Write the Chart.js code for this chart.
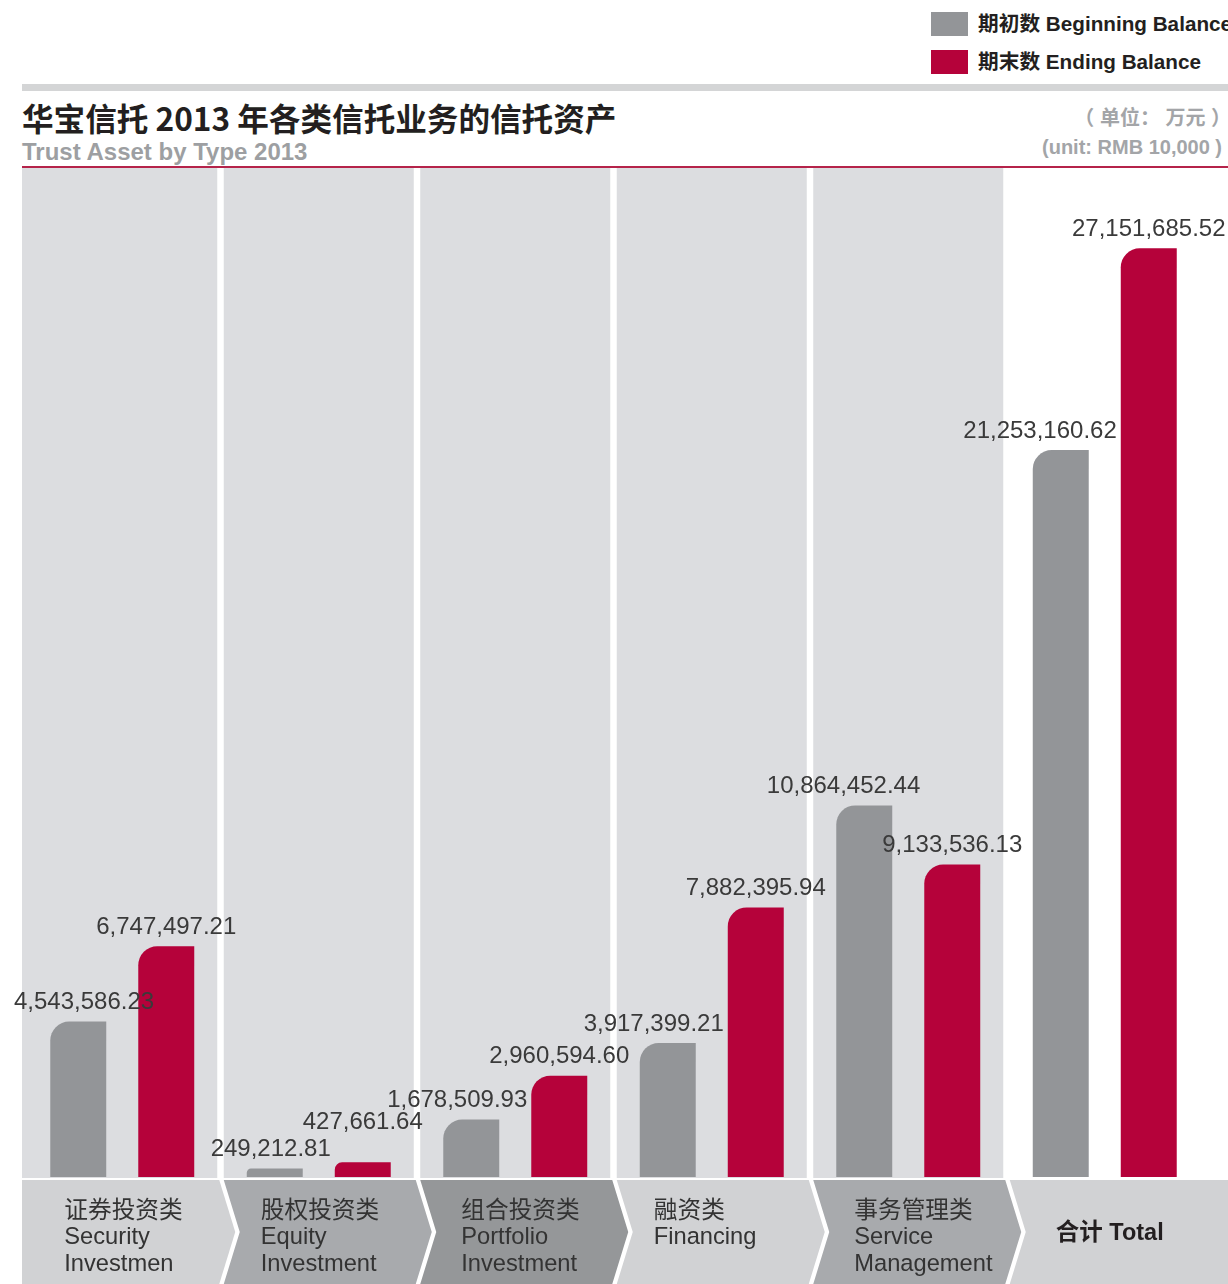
<!DOCTYPE html>
<html>
<head>
<meta charset="utf-8">
<script src="https://cdn.jsdelivr.net/npm/chart.js@4.4.0/dist/chart.umd.min.js"></script>
<style>
  body { margin: 0; width: 1228px; height: 1284px; overflow: hidden; background: #fff; position: relative;
         font-family: "Liberation Sans", "Noto Sans CJK SC", sans-serif; }
  .abs { position: absolute; white-space: nowrap; }
  .box { position: absolute; width: 37px; height: 24px; }
  .leg { font-size: 20.7px; font-weight: bold; color: #231f20; line-height: 24px; }
  #title { left: 22px; top: 98px; font-family: "Noto Sans CJK SC", sans-serif; font-weight: bold; font-size: 31.6px; line-height: 38px; color: #231f20; }
  #subtitle { left: 22px; top: 139px; font-size: 24px; font-weight: bold; color: #9d9fa2; line-height: 26px; }
  .unit { font-weight: bold; color: #a3a5a8; font-size: 20px; line-height: 24px; }
  #wrap { position: absolute; left: 0; top: 168px; width: 1228px; height: 1116px; }
</style>
</head>
<body>
<div class="box" style="left:931px;top:12px;background:#939598"></div>
<div class="abs leg" style="left:978px;top:12px">期初数 Beginning Balance</div>
<div class="box" style="left:931px;top:50px;background:#b5023a"></div>
<div class="abs leg" style="left:978px;top:50px">期末数 Ending Balance</div>

<div class="abs" style="left:22px;top:84px;width:1206px;height:7px;background:#d4d5d6"></div>
<div class="abs" id="title">华宝信托 2013 年各类信托业务的信托资产</div>
<div class="abs" id="subtitle">Trust Asset by Type 2013</div>
<div class="abs unit" style="right:-3px;top:106px">（ 单位： 万元 ）</div>
<div class="abs unit" style="left:1042px;top:135px">(unit: RMB 10,000 )</div>
<div class="abs" style="left:22px;top:166px;width:1206px;height:2px;background:#b5234a"></div>

<div id="wrap"><canvas id="chart"></canvas></div>

<script>
const categories = [
  ["证券投资类", "Security", "Investmen"],
  ["股权投资类", "Equity", "Investment"],
  ["组合投资类", "Portfolio", "Investment"],
  ["融资类", "Financing"],
  ["事务管理类", "Service", "Management"],
  ["合计 Total"]
];
const beginning = [4543586.23, 249212.81, 1678509.93, 3917399.21, 10864452.44, 21253160.62];
const ending = [6747497.21, 427661.64, 2960594.60, 7882395.94, 9133536.13, 27151685.52];

const fmt = new Intl.NumberFormat("en-US", { minimumFractionDigits: 2, maximumFractionDigits: 2 });
const chevronColors = ["#d1d2d4", "#a8aaad", "#959799", "#d1d2d4", "#a8aaad", "#d1d2d4"];

//grey columns behind every category except the total
const backdrop = {
  id: "backdrop",
  beforeDatasetsDraw(chart) {
    const { ctx, chartArea, scales } = chart;
    ctx.save();
    ctx.fillStyle = "#dcdde0";
    for (let i = 0; i < categories.length - 1; i++) {
      const c = scales.x.getPixelForValue(i);
      const left = i === 0 ? chartArea.left - 2 : c - 95;
      ctx.fillRect(left, chartArea.top, c + 95 - left, chartArea.bottom - chartArea.top + 1);
    }
    ctx.restore();
  }
};

//numbers over the bars, nudged so they don't run into each other
const valueLabels = {
  id: "valueLabels",
  afterDatasetsDraw(chart) {
    const { ctx, chartArea } = chart;
    const begin = chart.getDatasetMeta(0).data;
    const end = chart.getDatasetMeta(1).data;
    ctx.save();
    ctx.font = '24px "Liberation Sans", sans-serif';
    ctx.fillStyle = "#3a3a3a";
    ctx.textAlign = "left";
    ctx.textBaseline = "bottom";
    for (let i = 0; i < categories.length; i++) {
      const tb = fmt.format(beginning[i]);
      const te = fmt.format(ending[i]);
      const wb = ctx.measureText(tb).width;
      const we = ctx.measureText(te).width;

      let xb = begin[i].x - wb / 2;
      const limit = end[i].x - end[i].width / 2 - 4;
      if (xb + wb > limit) xb = limit - wb;
      if (xb < chartArea.left - 10) xb = chartArea.left - 10;
      const yb = begin[i].y - 7;

      const xe = end[i].x - we / 2;
      let ye = end[i].y - 7;
      const overlapX = xe < xb + wb && xe + we > xb;
      if (overlapX && Math.abs(ye - yb) < 26) ye = Math.min(ye, yb - 27);

      ctx.fillText(tb, xb, yb);
      ctx.fillText(te, xe, ye);
    }
    ctx.restore();
  }
};

//chevron category tabs under the chart
const chevrons = {
  id: "chevrons",
  afterDraw(chart) {
    const { ctx, chartArea, scales, width, height } = chart;
    const top = chartArea.bottom + 3;
    const bottom = height;
    const mid = (top + bottom) / 2;
    const tip = 16;
    ctx.save();
    for (let i = 0; i < categories.length; i++) {
      const c = scales.x.getPixelForValue(i);
      const left = i === 0 ? chartArea.left - 2 : c - 95;
      const right = i === categories.length - 1 ? width + 2 : c + 97;
      ctx.beginPath();
      ctx.moveTo(left, top);
      ctx.lineTo(right, top);
      ctx.lineTo(right + tip, mid);
      ctx.lineTo(right, bottom);
      ctx.lineTo(left, bottom);
      if (i > 0) ctx.lineTo(left + tip, mid);
      ctx.closePath();
      ctx.fillStyle = chevronColors[i];
      ctx.fill();

      const lines = categories[i];
      const x = c - 58 + (i === 2 || i === 4 ? 4 : 0);
      ctx.fillStyle = "#333";
      ctx.textAlign = "left";
      ctx.textBaseline = "middle";
      if (lines.length === 1) {
        ctx.font = 'bold 23.5px "Liberation Sans", "Noto Sans CJK SC", sans-serif';
        ctx.fillStyle = "#231f20";
        ctx.fillText(lines[0], x + 9, mid + 2);
      } else {
        ctx.font = '23.7px "Liberation Sans", "Noto Sans CJK SC", sans-serif';
        lines.forEach((t, k) => ctx.fillText(t, x, top + 31 + k * 26.5));
      }
    }
    ctx.restore();
  }
};

const radius = { topLeft: 19, topRight: 0, bottomLeft: 0, bottomRight: 0 };

new Chart(document.getElementById("chart"), {
  type: "bar",
  data: {
    labels: categories,
    datasets: [
      { label: "期初数 Beginning Balance", data: beginning, backgroundColor: "#939598",
        borderRadius: radius, borderSkipped: false },
      { label: "期末数 Ending Balance", data: ending, backgroundColor: "#b5023a",
        borderRadius: radius, borderSkipped: false }
    ]
  },
  options: {
    responsive: true,
    maintainAspectRatio: false,
    animation: false,
    events: [],
    layout: { padding: { left: 24, right: 25, top: 0, bottom: 107 } },
    categoryPercentage: 0.8957,
    barPercentage: 0.636,
    plugins: { legend: { display: false }, tooltip: { enabled: false } },
    scales: {
      x: { display: false },
      y: { display: false, min: 0, max: 29500000 }
    }
  },
  plugins: [backdrop, valueLabels, chevrons]
});
</script>
</body>
</html>
